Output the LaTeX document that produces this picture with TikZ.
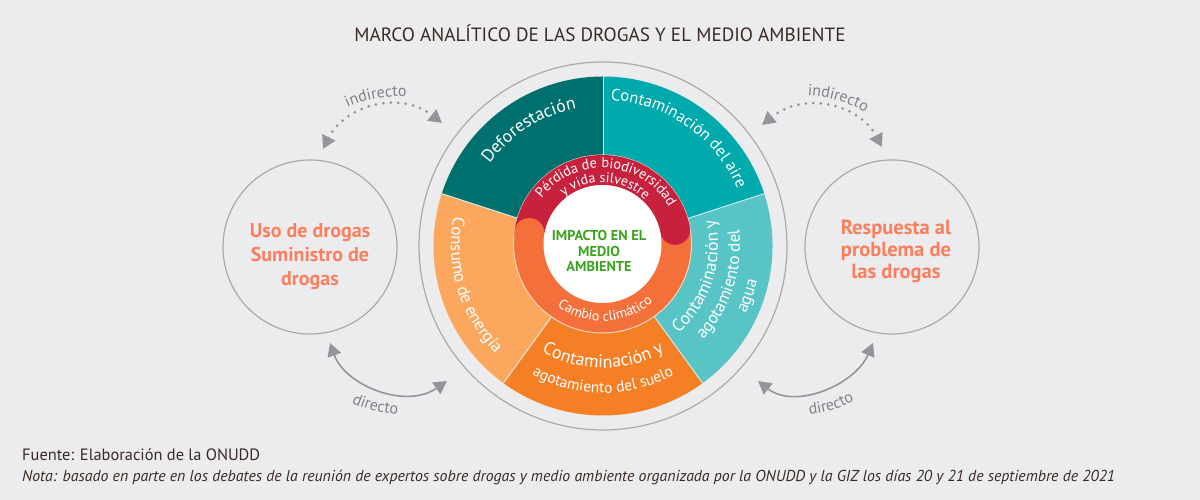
\documentclass[tikz,border=0pt]{standalone}
\usepackage{fontspec}
\setmainfont{PT Sans}
\usetikzlibrary{calc,arrows.meta,decorations.text}
\definecolor{paper}{HTML}{ECECEE}
\definecolor{inkdark}{HTML}{3A2A24}
\definecolor{ringgray}{HTML}{A9AAAD}
\definecolor{tipgray}{HTML}{939598}
\definecolor{wordgray}{HTML}{808285}
\definecolor{salmon}{HTML}{FB7F5E}
\definecolor{leafgreen}{HTML}{3BA41E}
\definecolor{darkteal}{HTML}{00706F}
\definecolor{midteal}{HTML}{00A9AC}
\definecolor{lightteal}{HTML}{58C4C6}
\definecolor{lightorange}{HTML}{FBA85E}
\definecolor{deeporange}{HTML}{F57F24}
\definecolor{ringred}{HTML}{C8213D}
\definecolor{ringorange}{HTML}{F4703A}
\tikzset{
	bigcircle/.style={circle, draw=ringgray, line width=1.2pt, minimum size=174pt, inner sep=0pt},
	headline/.style={text=salmon, align=center, inner sep=0pt},
	directarrow/.style={draw=tipgray, line width=1.6pt, {Triangle[length=13pt,width=14pt]}-{Triangle[length=13pt,width=14pt]}},
	indirectarrow/.style={draw=tipgray, line width=3pt, line cap=round, dash pattern=on 0pt off 7.5pt, {Triangle[length=13pt,width=14pt]}-{Triangle[length=13pt,width=14pt]}},
	curvetext/.style={decorate, decoration={text along path, text align=center, text={|\color{wordgray}\fontsize{16}{16}\selectfont|#1}}},
}
% sector of the wheel
\def\wheelseg#1(#2:#3){\fill[#1] (wheel) -- ($(wheel)+(#2:169.5)$) arc (#2:#3:169.5) -- cycle;}
% text on an arc
\def\arctext#1#2(#3)(#4:#5:#6)#7{\path[decorate, decoration={text along path, text align=center, text={|\color{#1}\fontsize{#2}{#2}\selectfont|#7}}] ($(#3)+(#4:#6)$) arc (#4:#5:#6);}

\begin{document}
\begin{tikzpicture}[x=1pt, y=1pt]
	%%%%% BACKGROUND %%%%%
	\fill[paper] (0, 0) rectangle (1200, 500);
	\useasboundingbox (0, 0) rectangle (1200, 500);
	
	\coordinate (wheel) at (603, 254);
	\coordinate (core) at (602.5, 256);
	
	\node[text=inkdark, font=\fontsize{19.2}{19.2}\selectfont, inner sep=0pt] (title) at (600, 467) {MARCO ANALÍTICO DE LAS DROGAS Y EL MEDIO AMBIENTE};
	
	%%%%% WHEEL %%%%%
	\draw[ringgray, line width=1.2pt] (wheel) circle (184);
	
	\wheelseg{darkteal}(90:162)
	\wheelseg{midteal}(18:90)
	\wheelseg{lightteal}(-54:18)
	\wheelseg{deeporange}(-126:-54)
	\wheelseg{lightorange}(162:234)
	\foreach \a in {90, 18, -54, -126, 162}
		\draw[white!75!lightteal, line width=0.9pt] (wheel) -- ($(wheel)+(\a:169.5)$);
	
	%%%%% INNER RING %%%%%
	\draw[fill=ringorange, draw=white!70!ringorange, line width=1pt] (core) circle (89);
	\draw[ringred, line width=30pt] ($(core)+(171.5:74)$) arc (171.5:11:74);
	\fill[ringred] ($(core)+(11:74)$) circle (15);
	\fill[ringorange] ($(core)+(171.5:74)$) circle (15);
	\fill[white] (core) circle (59);
	
	\node[text=leafgreen, font=\bfseries\fontsize{14.3}{15.5}\selectfont, align=center, inner sep=0pt] (impact) at (599, 249) {IMPACTO EN EL\\MEDIO\\AMBIENTE};
	
	%%%%% WORDS ON THE ARCS %%%%%
	\arctext{white}{17.8}(wheel)(165:80:140){Deforestación}
	\arctext{white}{16.5}(wheel)(100:10:146){Contaminación del aire}
	\arctext{white}{17}(wheel)(159:235:152){Consumo de energía}
	\arctext{white}{18}(wheel)(235:305:122){Contaminación y}
	\arctext{white}{15.5}(wheel)(235:305:147){agotamiento del suelo}
	\arctext{white}{17.5}(wheel)(-55:19:115){Contaminación y}
	\arctext{white}{17}(wheel)(-50:14:137){agotamiento del}
	\arctext{white}{17}(wheel)(-40:2:158){agua}
	\arctext{white}{14.3}(core)(155:17:76){Pérdida de biodiversidad}
	\arctext{white}{14}(core)(145:30:61.5){y vida silvestre}
	\arctext{white}{14}(core)(225:320:77){Cambio climático}
	
	%%%%% SIDE CIRCLES %%%%%
	\node[bigcircle] (uso) at (310, 253) {};
	\node[bigcircle] (respuesta) at (892, 253) {};
	\node[headline, font=\bfseries\fontsize{20}{24}\selectfont] (usotext) at (310, 243) {Uso de drogas\\Suministro de\\drogas};
	\node[headline, font=\bfseries\fontsize{20.5}{22}\selectfont] (respuestatext) at (896, 249) {Respuesta al\\problema de\\las drogas};
	
	%%%%% ARROWS %%%%%
	\coordinate (indA) at (323, 351);
	\coordinate (indB) at (442, 377);
	\coordinate (indC) at (762, 375);
	\coordinate (indD) at (882, 353);
	\coordinate (dirA) at (330, 157);
	\coordinate (dirB) at (447, 119);
	\coordinate (dirC) at (758, 119);
	\coordinate (dirD) at (873, 157);
	
	\draw[indirectarrow] (indA) .. controls (345, 395) and (400, 410) .. (indB);
	\draw[indirectarrow] (indC) .. controls (805, 410) and (860, 395) .. (indD);
	\draw[directarrow] (dirA) .. controls (345, 115) and (405, 90) .. (dirB);
	\draw[directarrow] (dirC) .. controls (795, 90) and (855, 115) .. (dirD);
	
	\path[curvetext={indirecto}] (340, 389) .. controls (360, 400) and (385, 405) .. (415, 404);
	\path[curvetext={indirecto}] (800, 405) .. controls (825, 405) and (850, 398) .. (872, 384);
	\path[curvetext={directo}] (345, 100) .. controls (360, 92) and (380, 86) .. (405, 85);
	\path[curvetext={directo}] (800, 85) .. controls (825, 86) and (845, 92) .. (862, 105);
	
	%%%%% SOURCE %%%%%
	\node[anchor=base west, text=inkdark, font=\fontsize{16.4}{16.4}\selectfont, inner sep=0pt] (fuente) at (22, 39) {Fuente: Elaboración de la ONUDD};
	\node[anchor=base west, text=inkdark, font=\itshape\fontsize{15.8}{15.8}\selectfont, inner sep=0pt] (nota) at (22, 18) {Nota: basado en parte en los debates de la reunión de expertos sobre drogas y medio ambiente organizada por la ONUDD y la GIZ los días 20 y 21 de septiembre de 2021};
\end{tikzpicture}
\end{document}
